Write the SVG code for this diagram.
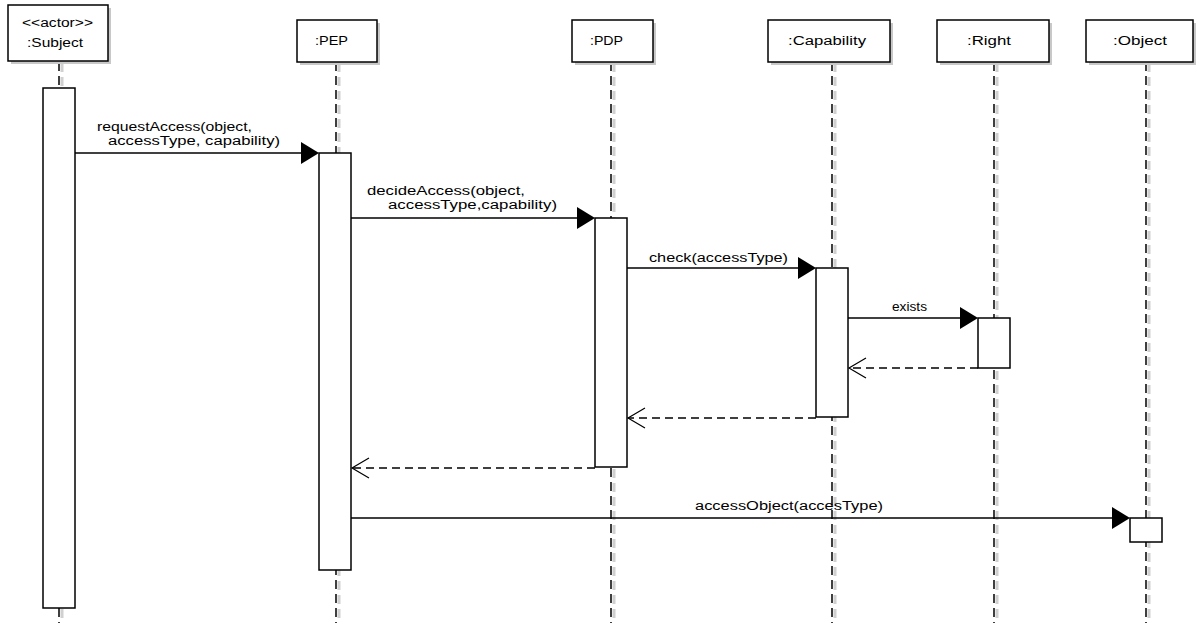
<svg xmlns="http://www.w3.org/2000/svg" width="1196" height="623" viewBox="0 0 1196 623">
<style>
text{font-family:"Liberation Sans",Arial,sans-serif;font-size:12px;fill:#000}
.box{fill:#fff;stroke:#000;stroke-width:1.5}
.sh{fill:#c8c8c8}
.life{stroke:#000;stroke-width:1.5;stroke-dasharray:9,5;fill:none}
.lifesh{stroke:#d0d0d0;stroke-width:3;stroke-dasharray:9,5;fill:none}
.act{fill:#fff;stroke:#000;stroke-width:1.5}
.msg{stroke:#000;stroke-width:1.5;fill:none}
.ret{stroke:#000;stroke-width:1.5;fill:none;stroke-dasharray:8,5}
.open{stroke:#000;stroke-width:1.2;fill:none}
.head{fill:#000}
</style>
<rect width="1196" height="623" fill="#fff"/>
<g id="lifelines">
<path class="lifesh" d="M62 63V623M339 63V623M614 63V623M835 63V623M997 63V623M1149 63V623"/>
<path class="life" d="M59 62V623M336 62V623M611 62V623M832 62V623M994 62V623M1146 62V623"/>
</g>
<g id="subject">
<rect class="sh" x="11" y="8" width="100" height="56"/>
<rect class="box" x="8" y="5" width="100" height="56"/>
<text x="22" y="27" textLength="71" lengthAdjust="spacingAndGlyphs">&lt;&lt;actor&gt;&gt;</text>
<text x="27" y="47" textLength="56" lengthAdjust="spacingAndGlyphs">:Subject</text>
</g>
<g id="pep">
<rect class="sh" x="300" y="23" width="80" height="42"/>
<rect class="box" x="297" y="20" width="80" height="42"/>
<text x="315" y="45" textLength="33" lengthAdjust="spacingAndGlyphs">:PEP</text>
</g>
<g id="pdp">
<rect class="sh" x="575" y="23" width="81" height="42"/>
<rect class="box" x="572" y="20" width="81" height="42"/>
<text x="590" y="45" textLength="33" lengthAdjust="spacingAndGlyphs">:PDP</text>
</g>
<g id="capability">
<rect class="sh" x="771" y="23" width="122" height="42"/>
<rect class="box" x="768" y="20" width="122" height="42"/>
<text x="788" y="45" textLength="78" lengthAdjust="spacingAndGlyphs">:Capability</text>
</g>
<g id="right">
<rect class="sh" x="940" y="23" width="112" height="42"/>
<rect class="box" x="937" y="20" width="112" height="42"/>
<text x="967" y="45" textLength="44" lengthAdjust="spacingAndGlyphs">:Right</text>
</g>
<g id="object">
<rect class="sh" x="1089" y="23" width="107" height="42"/>
<rect class="box" x="1086" y="20" width="107" height="42"/>
<text x="1113" y="45" textLength="54" lengthAdjust="spacingAndGlyphs">:Object</text>
</g>
<g id="activations">
<rect class="act" x="43" y="88" width="32" height="520"/>
<rect class="act" x="319" y="153" width="32" height="417"/>
<rect class="act" x="595" y="218" width="32" height="249"/>
<rect class="act" x="816" y="268" width="32" height="149"/>
<rect class="act" x="978" y="318" width="32" height="50"/>
<rect class="act" x="1130" y="518" width="32" height="24"/>
</g>
<g id="connectors">
<path class="msg" d="M75 153H302"/>
<polygon class="head" points="319,153 301,142 301,164"/>
<text x="97" y="131" textLength="155" lengthAdjust="spacingAndGlyphs">requestAccess(object,</text>
<text x="108" y="145" textLength="172" lengthAdjust="spacingAndGlyphs">accessType, capability)</text>
<path class="msg" d="M351 218H578"/>
<polygon class="head" points="595,218 577,207 577,229"/>
<text x="367" y="195" textLength="158" lengthAdjust="spacingAndGlyphs">decideAccess(object,</text>
<text x="388" y="209" textLength="169" lengthAdjust="spacingAndGlyphs">accessType,capability)</text>
<path class="msg" d="M627 268H799"/>
<polygon class="head" points="816,268 798,257 798,279"/>
<text x="649" y="262" textLength="139" lengthAdjust="spacingAndGlyphs">check(accessType)</text>
<path class="msg" d="M848 318H961"/>
<polygon class="head" points="978,318 960,307 960,329"/>
<text x="892" y="311" textLength="35" lengthAdjust="spacingAndGlyphs">exists</text>
<path class="ret" d="M978 368H849"/>
<path class="open" d="M866 358L849 368L866 378"/>
<path class="ret" d="M816 418H628"/>
<path class="open" d="M645 408L628 418L645 428"/>
<path class="ret" d="M595 468H352"/>
<path class="open" d="M369 458L352 468L369 478"/>
<path class="msg" d="M351 518H1113"/>
<polygon class="head" points="1130,518 1112,507 1112,529"/>
<text x="695" y="510" textLength="188" lengthAdjust="spacingAndGlyphs">accessObject(accesType)</text>
</g>
</svg>
